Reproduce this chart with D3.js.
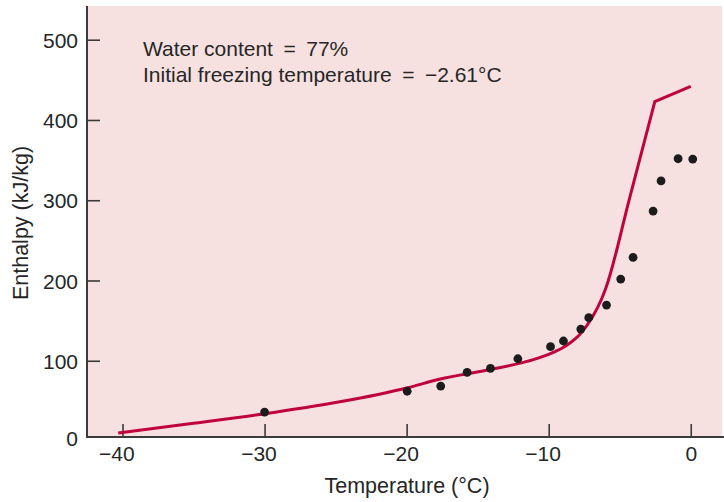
<!DOCTYPE html>
<html><head><meta charset="utf-8">
<script src="https://cdn.jsdelivr.net/npm/d3@7"></script>
<style>body{margin:0;background:#fff}svg{display:block}</style>
</head><body>
<script>
// Data
const curveTemps = [-40.3, -35, -30, -25, -22, -20, -17.7, -14.1, -12, -10, -8.75, -7.8, -6.9, -6.3, -5.95, -4.3, -2.53, 0];
const curveEnth  = [10, 22, 34, 48, 58, 66, 77, 89, 97, 108, 119, 133, 155, 176, 192, 303, 423, 442];
const peakIndex = 16; // smooth part ends at the peak, straight segment after
const dotTemps = [-30, -19.96, -17.6, -15.74, -14.1, -12.17, -9.87, -8.96, -7.74, -7.18, -5.93, -4.93, -4.06, -2.65, -2.09, -0.89, 0.14];
const dotEnth  = [36, 62, 68.5, 85.6, 90.5, 102.5, 117.5, 124.6, 139.5, 153.6, 169.4, 201.8, 228.8, 286.5, 324, 351.7, 351.3];
const xTicks = [-40, -30, -20, -10, 0];
const yTicks = [100, 200, 300, 400, 500];
const annotation = ["Water content\u2002=\u200277%", "Initial freezing temperature\u2002=\u2002\u22122.61\u00B0C"];

const W = 724, H = 502;
const L = 87, R = 722, T = 6, B = 437;
const FS = "21px";
const ink = "#262626";
const svg = d3.select("body").append("svg").attr("width", W).attr("height", H)
  .style("font-family", "'Liberation Sans', Arial, Helvetica, sans-serif");

const x = d3.scaleLinear().domain([-42.5, 2.2]).range([L, R]);
const y = d3.scaleLinear().domain([5, 542]).range([B, T]);

svg.append("rect").attr("x", L).attr("y", T).attr("width", R - L).attr("height", B - T).attr("fill", "#f6e1e0");

const fmt = v => (v < 0 ? "\u2212" + Math.abs(v) : String(v));

// measure digit widths so the numeric part is centred on the tick
const meas = svg.append("text").attr("font-size", FS).attr("visibility", "hidden");
const digitW = v => { meas.text(String(Math.abs(v))); return meas.node().getComputedTextLength(); };

// x axis
const xa = svg.append("g").attr("transform", `translate(0,${B})`)
  .call(d3.axisBottom(x).tickValues(xTicks).tickSize(-13).tickFormat(fmt));
xa.select(".domain").remove();
xa.selectAll(".tick line").attr("stroke", "#3b3b3b").attr("stroke-width", 1.6);
xa.selectAll(".tick text").attr("font-size", FS).attr("fill", ink)
  .attr("text-anchor", "end").attr("y", 23.5).attr("dy", 0)
  .attr("x", d => digitW(d) / 2);

// y axis
const ya = svg.append("g").attr("transform", `translate(${L},0)`)
  .call(d3.axisLeft(y).tickValues(yTicks).tickSize(-13).tickFormat(fmt));
ya.select(".domain").remove();
ya.selectAll(".tick line").attr("stroke", "#3b3b3b").attr("stroke-width", 1.6);
ya.selectAll(".tick text").attr("font-size", FS).attr("fill", ink).attr("x", -9).attr("dy", "0.36em");
svg.append("text").attr("x", L - 9).attr("y", B + 1).attr("dy", "0.36em").attr("text-anchor", "end")
  .attr("font-size", FS).attr("fill", ink).text("0");
meas.remove();

// axis lines
svg.append("line").attr("x1", L).attr("x2", L).attr("y1", T).attr("y2", B).attr("stroke", "#3b3b3b").attr("stroke-width", 2);
svg.append("line").attr("x1", L - 1).attr("x2", R + 2).attr("y1", B).attr("y2", B).attr("stroke", "#3b3b3b").attr("stroke-width", 2);

// curve
const pts = curveTemps.map((t, i) => [t, curveEnth[i]]);
const smooth = d3.line().x(d => x(d[0])).y(d => y(d[1])).curve(d3.curveMonotoneX);
const straight = d3.line().x(d => x(d[0])).y(d => y(d[1]));
svg.append("path").attr("d", smooth(pts.slice(0, peakIndex + 1)) + straight(pts.slice(peakIndex)).replace(/^M/, "L"))
  .attr("fill", "none").attr("stroke", "#c0033d").attr("stroke-width", 3).attr("stroke-linejoin", "miter");

// dots
svg.append("g").selectAll("circle").data(dotTemps.map((t, i) => [t, dotEnth[i]])).join("circle")
  .attr("cx", d => x(d[0])).attr("cy", d => y(d[1])).attr("r", 4.4).attr("fill", "#1c1c1c");

// annotation
annotation.forEach((s, i) => {
  svg.append("text").attr("x", 143).attr("y", 55.5 + i * 26.5).attr("font-size", FS).attr("fill", ink).text(s);
});

// axis titles
svg.append("text").attr("x", 407).attr("y", 493).attr("text-anchor", "middle").attr("font-size", "21.5px")
  .attr("fill", ink).text("Temperature (\u00B0C)");
svg.append("text").attr("transform", "translate(28,223) rotate(-90)").attr("text-anchor", "middle")
  .attr("font-size", "21.5px").attr("fill", ink).text("Enthalpy (kJ/kg)");
</script>
</body></html>
